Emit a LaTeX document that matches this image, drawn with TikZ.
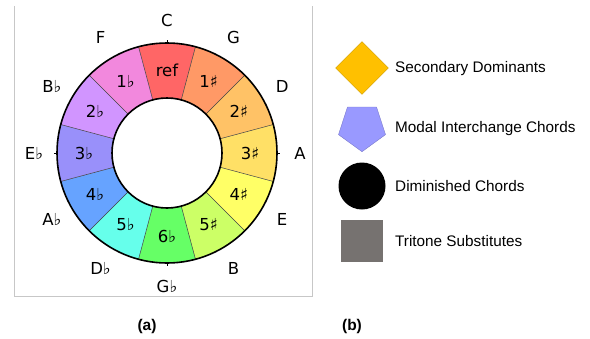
\documentclass[tikz,border=0pt]{standalone}
\usepackage{fontspec}
\setmainfont{Liberation Sans}
\newfontfamily\djv{DejaVu Sans}
\usetikzlibrary{shapes.geometric}
\definecolor{cref}{HTML}{FF6666}
\definecolor{cs1}{HTML}{FF9966}
\definecolor{cs2}{HTML}{FFC266}
\definecolor{cs3}{HTML}{FFE066}
\definecolor{cs4}{HTML}{FFFF66}
\definecolor{cs5}{HTML}{CCFF66}
\definecolor{cf6}{HTML}{66FF66}
\definecolor{cf5}{HTML}{66FFEB}
\definecolor{cf4}{HTML}{66A3FF}
\definecolor{cf3}{HTML}{9990FA}
\definecolor{cf2}{HTML}{D195FF}
\definecolor{cf1}{HTML}{F288DD}
\definecolor{dia}{HTML}{FFC000}
\definecolor{pent}{HTML}{9999FF}
\definecolor{sq}{HTML}{767270}
\tikzset{
  seglabel/.style={font=\djv\fontsize{16.5bp}{19bp}\selectfont, inner sep=0pt},
  keylabel/.style={font=\djv\fontsize{16.5bp}{19bp}\selectfont, inner sep=0pt},
  legtext/.style={font=\fontsize{15.3bp}{18bp}\selectfont, anchor=west, inner sep=0pt},
  caption/.style={font=\bfseries\fontsize{15.5bp}{18bp}\selectfont, inner sep=0pt},
  sepline/.style={draw=black!75, line width=0.5bp},
  ringline/.style={draw=black, line width=1.6bp},
  panelline/.style={draw=black!22, line width=0.9bp}
}
\begin{document}
\begin{tikzpicture}[x=1bp,y=1bp]
\useasboundingbox (0,0) rectangle (590,338);
% panel border (left, bottom, right)
\draw[panelline] (14,332) -- (14,42) -- (312,42) -- (312,332);
\begin{scope}[shift={(167,185)}]
  \foreach \i/\c/\t in {0/cref/ref,1/cs1/1♯,2/cs2/2♯,3/cs3/3♯,4/cs4/4♯,5/cs5/5♯,6/cf6/6♭,7/cf5/5♭,8/cf4/4♭,9/cf3/3♭,10/cf2/2♭,11/cf1/1♭}{
    \pgfmathsetmacro{\a}{90-30*\i}
    \pgfmathsetmacro{\aa}{\a+15}
    \pgfmathsetmacro{\ab}{\a-15}
    \fill[\c] (\aa:110) arc[start angle=\aa, end angle=\ab, radius=110] -- (\ab:55) arc[start angle=\ab, end angle=\aa, radius=55] -- cycle;
    \node[seglabel] (seg\i) at (\a:83) {\t};
  }
  \foreach \k in {0,...,11}{
    \draw[sepline] (15+30*\k:55) -- (15+30*\k:110);
  }
  \draw[ringline] (0,0) circle[radius=110];
  \draw[ringline] (0,0) circle[radius=55];
  \foreach \k in {0,90,180,270}{
    \draw[black, line width=0.8bp] (\k:110) -- (\k:113);
  }
  \foreach \i/\t in {0/C,1/G,2/D,3/A,4/E,5/B,6/G♭,7/D♭,8/A♭,9/E♭,10/B♭,11/F}{
    \node[keylabel] (key\i) at (90-30*\i:133) {\t};
  }
\end{scope}
% legend
\node[diamond, fill=dia, draw=dia!80!black, line width=0.4bp, inner sep=0pt, minimum size=53bp] (ldia) at (362,270) {};
\node[regular polygon, regular polygon sides=5, shape border rotate=180, fill=pent, draw=pent!80!black, line width=0.4bp, inner sep=0pt, minimum size=49.4bp] (lpent) at (362,211) {};
\node[circle, fill=black, inner sep=0pt, minimum size=47bp] (lcirc) at (362,152) {};
\node[rectangle, fill=sq, inner sep=0pt, minimum size=42bp] (lsq) at (362,97) {};
\node[legtext] (tdia) at (395,269) {Secondary Dominants};
\node[legtext] (tpent) at (395,209) {Modal Interchange Chords};
\node[legtext] (tcirc) at (395,152) {Diminished Chords};
\node[legtext] (tsq) at (395,97) {Tritone Substitutes};
\node[caption] (capa) at (147,12) {(a)};
\node[caption] (capb) at (352,12) {(b)};
\end{tikzpicture}
\end{document}
